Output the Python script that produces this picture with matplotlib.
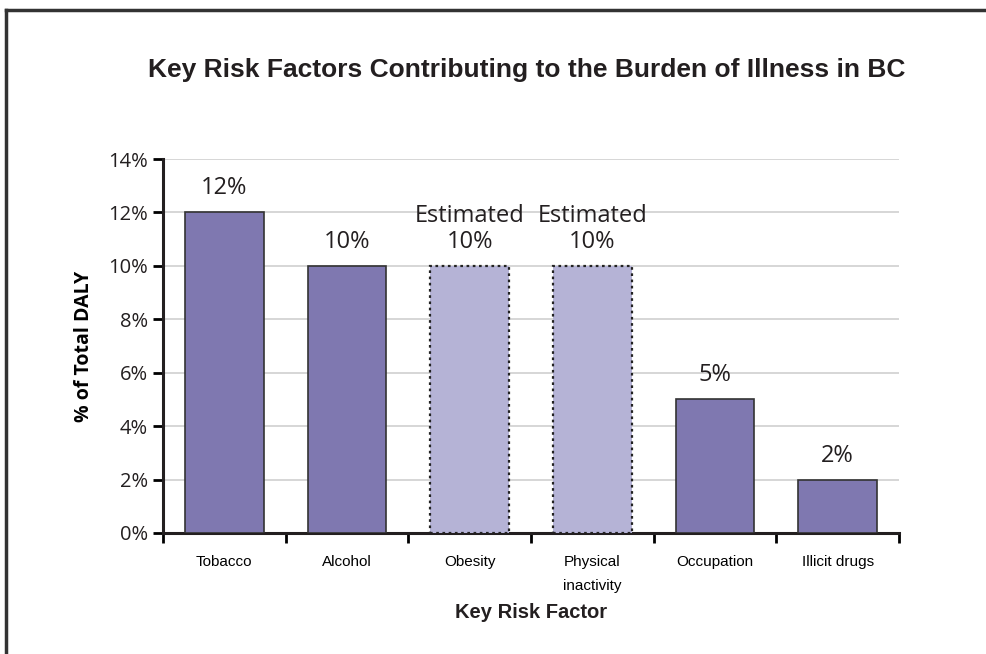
import matplotlib.pyplot as plt
from matplotlib.lines import Line2D
from matplotlib.ticker import MultipleLocator, FuncFormatter
from matplotlib import font_manager

names = {f.name for f in font_manager.fontManager.ttflist}
narrow = 'Liberation Sans Narrow' if 'Liberation Sans Narrow' in names else 'Liberation Sans'

categories = ['Tobacco', 'Alcohol', 'Obesity', 'Physical\ninactivity', 'Occupation', 'Illicit drugs']
values = [12, 10, 10, 10, 5, 2]
estimated = [False, False, True, True, False, False]

dark = '#7f78b0'
light = '#b5b3d6'

fig = plt.figure(figsize=(9.87, 6.54), dpi=100)
ax = fig.add_axes([163 / 987, 1 - 533 / 654, 736 / 987, 374 / 654])

x = list(range(len(categories)))
for i, (v, est) in enumerate(zip(values, estimated)):
    if est:
        ax.bar(i, v, width=0.64, color=light, edgecolor='#222222', linewidth=1.6,
               linestyle=(0, (1.2, 1.6)), zorder=3)
        label = 'Estimated\n%d%%' % v
    else:
        ax.bar(i, v, width=0.64, color=dark, edgecolor='#333333', linewidth=1.2, zorder=3)
        label = '%d%%' % v
    ax.text(i, v + 0.45, label, ha='center', va='bottom', fontsize=17,
            family='Open Sans', color='#231f20', linespacing=1.1)

ax.set_xlim(-0.5, len(categories) - 0.5)
ax.set_ylim(0, 14)
ax.yaxis.set_major_locator(MultipleLocator(2))
ax.yaxis.set_major_formatter(FuncFormatter(lambda v, p: '%d%%' % v))
ax.grid(axis='y', color='#d0d0d0', linewidth=1.2, zorder=0)

ax.set_xticks(x)
ax.set_xticklabels(categories, family=narrow, fontsize=11, va='top', linespacing=1.9)
ax.set_xticks([i - 0.5 for i in range(len(categories) + 1)], minor=True)
ax.tick_params(axis='x', which='major', length=0, pad=16)
ax.tick_params(axis='x', which='minor', length=7, width=2, direction='out')
ax.tick_params(axis='y', length=7, width=2, direction='out', labelsize=14.5, pad=4)
for t in ax.get_yticklabels():
    t.set_family('Open Sans')
    t.set_color('#231f20')

for s in ['top', 'right']:
    ax.spines[s].set_visible(False)
for s in ['left', 'bottom']:
    ax.spines[s].set_linewidth(2.2)
    ax.spines[s].set_color('#231f20')

ax.set_ylabel('% of Total DALY', fontsize=14, fontweight='bold', family='Open Sans', labelpad=10)
fig.text(531 / 987, 1 - 612 / 654, 'Key Risk Factor', ha='center', va='center',
         fontsize=14.5, fontweight='bold', family=narrow, color='#231f20')
fig.text(527 / 987, 1 - 70 / 654, 'Key Risk Factors Contributing to the Burden of Illness in BC',
         ha='center', va='center', fontsize=19, fontweight='bold', family=narrow, color='#231f20')

# frame lines at the top and left edge
fig.add_artist(Line2D([6 / 987, 6 / 987], [0, 1 - 10 / 654], color='#333333', linewidth=2.5))
fig.add_artist(Line2D([6 / 987, 1], [1 - 10 / 654, 1 - 10 / 654], color='#333333', linewidth=2.5))

fig.savefig('out.png', dpi=100)
